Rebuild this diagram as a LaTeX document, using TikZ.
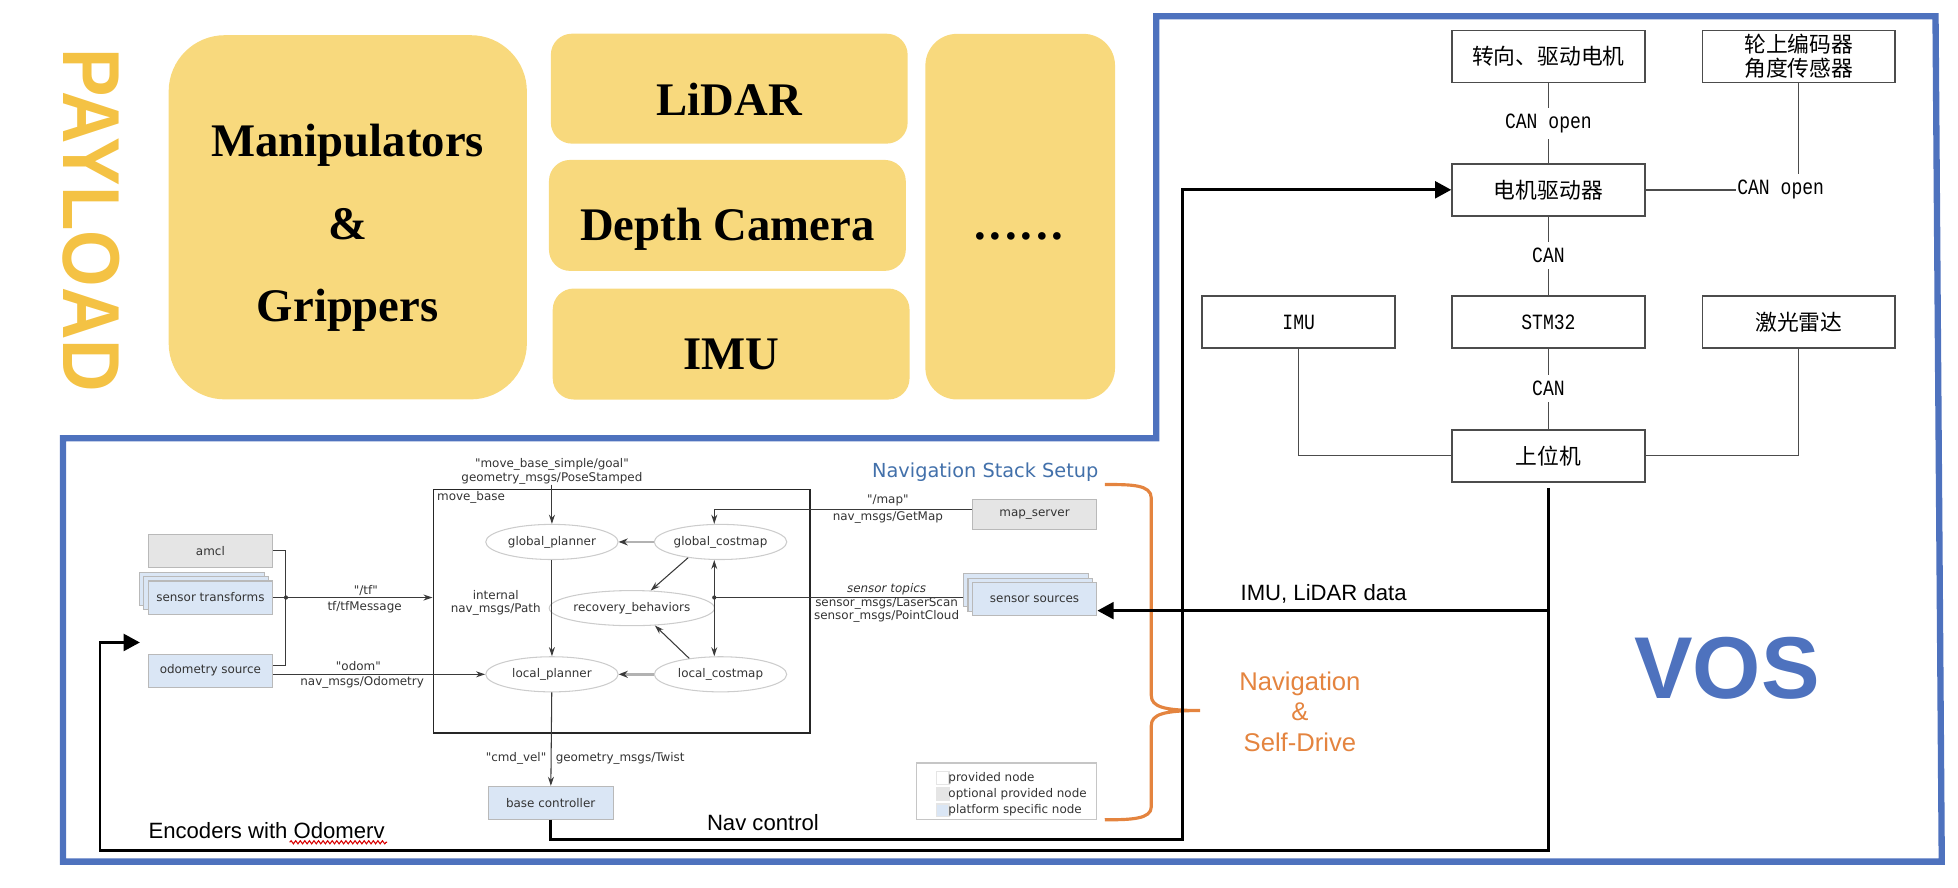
\documentclass[tikz,border=0pt]{standalone}
\usepackage{graphicx}
\usepackage{fontspec}
\setmainfont{Liberation Sans}
\newfontfamily\cjkfont{Noto Sans CJK SC}
\newfontfamily\rosfont{DejaVu Sans}[Ligatures=TeXOff]
\newfontfamily\payfont{Liberation Serif}
\newfontfamily\canfont{Liberation Mono}
\usetikzlibrary{arrows.meta,shapes.geometric,shadows,decorations.pathmorphing}

\definecolor{vosblue}{HTML}{4E72BE}
\definecolor{payfill}{HTML}{F8D97D}
\definecolor{paytext}{HTML}{F4C244}
\definecolor{navorange}{HTML}{E4843F}
\definecolor{rosblue}{HTML}{DAE6F5}
\definecolor{rosgray}{HTML}{E5E5E5}
\definecolor{rosline}{HTML}{3A3A3A}
\definecolor{stacktitle}{HTML}{4270AA}

\newcommand{\rostxt}{\rosfont\fontsize{3.4}{3.8}\selectfont}
\newcommand{\cntxt}{\cjkfont\fontsize{6.2}{6.8}\selectfont}
\newcommand{\cantxt}[1]{{\canfont\fontsize{6.2}{7}\selectfont\scalebox{0.83}[1]{#1}}}

\begin{document}
\begin{tikzpicture}[x=0.01249cm, y=-0.01249cm,
  paybox/.style={fill=payfill, rounded corners=6pt, inner sep=0pt},
  paylbl/.style={font=\payfont\bfseries\fontsize{13.3}{23.5}\selectfont, align=center, inner sep=0pt},
  vosbox/.style={draw=black!70, line width=0.45pt, fill=white, minimum width=54.9pt, minimum height=14.8pt, inner sep=0pt, font=\cntxt, align=center},
  canlbl/.style={inner xsep=0.3pt, inner ysep=1.6pt},
  vline/.style={draw=black!70, line width=0.4pt},
  bigarrow/.style={line width=0.75pt, -{Triangle[length=4.6pt,width=4.8pt]}},
  sidetxt/.style={font=\fontsize{6.3}{7.5}\selectfont, inner sep=0pt},
  rosbox/.style={draw=gray!55, line width=0.3pt, minimum width=35.5pt, minimum height=9.4pt, inner sep=0pt, font=\rostxt, text=black!80},
  rosstack/.style={rosbox, fill=rosblue, copy shadow={shadow xshift=-2.4pt, shadow yshift=2.4pt}, copy shadow={shadow xshift=-1.2pt, shadow yshift=1.2pt}},
  rosell/.style={ellipse, draw=gray!40, line width=0.3pt, minimum width=37.7pt, minimum height=10pt, inner sep=0pt, font=\rostxt, text=black!80},
  roslbl/.style={font=\rostxt, text=black!80, inner sep=0pt, align=center},
  rosplain/.style={draw=rosline, line width=0.3pt},
  rosarrow/.style={rosplain, -{Stealth[length=2.6pt,width=1.7pt]}},
  rosthick/.style={draw=gray!60, line width=0.75pt, -{Stealth[length=2.6pt,width=2pt,color=rosline]}}]
\useasboundingbox (0,0) rectangle (1568,711);

% VOS frame
\draw[vosblue, line width=1.8pt] (926,13) -- (1550,13) -- (1555,690) -- (50.5,690) -- (50.5,351) -- (926,351) -- cycle;

% payload
\node[rotate=-90, text=paytext, font=\bfseries\fontsize{23}{23}\selectfont, inner sep=0pt] (payload) at (73.5,176.5) {\scalebox{0.9}[1]{PAYLOAD}};
\node[paybox, rounded corners=16pt, minimum width=102pt, minimum height=103.7pt] (manip) at (278.5,174) {};
\node[paylbl] (manipt) at (278.5,182.5) {Manipulators\\\&\\Grippers};
\node[paybox, minimum width=101.6pt, minimum height=31.3pt] (lidar) at (584,71) {};
\node[paylbl] (lidart) at (584,79.5) {LiDAR};
\node[paybox, minimum width=101.6pt, minimum height=31.6pt] (depth) at (582.5,172.5) {};
\node[paylbl] (deptht) at (582.5,183.5) {Depth Camera};
\node[paybox, minimum width=101.6pt, minimum height=31.6pt] (imu) at (585.5,275.5) {};
\node[paylbl] (imut) at (585.5,283.5) {IMU};
\node[paybox, rounded corners=9pt, minimum width=54pt, minimum height=104.1pt] (more) at (817,173.5) {};
\node[paylbl] (moret) at (816,189) {.\kern1.1pt.\kern1.1pt.\kern1.1pt.\kern1.1pt.\kern1.1pt.};

% navigation stack
\node[text=stacktitle, font=\rosfont\fontsize{5.5}{6.5}\selectfont, inner sep=0pt] (nsstitle) at (789,378) {Navigation Stack Setup};
\node[draw=black!85, line width=0.5pt, minimum width=107.3pt, minimum height=69.3pt, inner sep=0pt] (mbase) at (498,489.5) {};
\node[roslbl, anchor=west] (mbaselbl) at (349.5,398.5) {move\_base};

\node[rosell] (gplan) at (442,434) {global\_planner};
\node[rosell] (gcost) at (577,434) {global\_costmap};
\node[rosell] (recov) at (506,487) {recovery\_behaviors};
\node[rosell] (lplan) at (442,540) {local\_planner};
\node[rosell] (lcost) at (577,540) {local\_costmap};

\node[rosbox, fill=rosgray] (amcl) at (168.5,441) {amcl};
\node[rosstack] (strans) at (168.5,478.5) {sensor transforms};
\node[rosbox, fill=rosblue] (odom) at (168.5,537) {odometry source};
\node[rosbox, fill=rosgray, minimum height=8.8pt] (mapsrv) at (828.5,412) {map\_server};
\node[rosstack] (srcs) at (828.5,479.5) {sensor sources};
\node[rosbox, fill=rosblue] (base) at (441,643) {base controller};

\node[roslbl] (goal) at (442,377.5) {"move\_base\_simple/goal"\\geometry\_msgs/PoseStamped};
\node[roslbl] (tflbl) at (293,472.5) {"/tf"};
\node[roslbl] (tfmsg) at (292,486.5) {tf/tfMessage};
\node[roslbl] (odomlbl) at (287,533) {"odom"};
\node[roslbl] (odommsg) at (290,546.5) {nav\_msgs/Odometry};
\node[roslbl] (pathlbl) at (397,483) {internal\\nav\_msgs/Path};
\node[roslbl] (maplbl) at (711,401) {"/map"};
\node[roslbl] (mapmsg) at (711,414.5) {nav\_msgs/GetMap};
\node[roslbl, font=\rostxt\itshape] (toplbl) at (710,471.5) {sensor topics};
\node[roslbl] (topmsg) at (710,488.5) {sensor\_msgs/LaserScan\\sensor\_msgs/PointCloud};
\node[roslbl, anchor=east] (cmdlbl) at (438,607.5) {"cmd\_vel"};
\node[roslbl, anchor=west] (twistlbl) at (444.5,607.5) {geometry\_msgs/Twist};

\coordinate (tdot) at (229,478.5);
\coordinate (tbot) at (229,533);
\coordinate (sdot) at (572,478.5);

\draw[rosarrow] (goal) -- (gplan);
\draw[rosthick] (gcost) -- (gplan);
\draw[rosthick] (lcost) -- (lplan);
\draw[rosarrow] (gplan) -- (lplan);
\draw[rosarrow] (gcost.206) -- (recov.43);
\draw[rosarrow] (lcost.153) -- (recov.323);
\draw[rosplain, {Stealth[length=2.6pt,width=1.7pt]}-{Stealth[length=2.6pt,width=1.7pt]}] (gcost.south -| sdot) -- (lcost.north -| sdot);
\draw[rosarrow] ([yshift=1.5pt]mapsrv.west) -| (gcost.north -| sdot);
\draw[rosplain, shorten <=2.4pt] (sdot -| srcs.west) -- (sdot);
\fill[rosline] (sdot) circle (0.6pt);

\draw[rosplain] (amcl) -| (tbot) -- (tbot -| odom.east);
\draw[rosplain] (strans) -- (tdot);
\draw[rosarrow] (tdot) -- (tdot -| mbase.west);
\fill[rosline] (tdot) circle (0.6pt);
\draw[rosarrow] (odom.east |- lplan) -- (lplan);
\draw[rosarrow] (lplan) -- (base);

% legend
\node[draw=gray!45, line width=0.3pt, minimum width=51.2pt, minimum height=16pt, inner sep=0pt] (legend) at (806,633.5) {};
\foreach \fc/\yy/\txt in {white/623/provided node, rosgray/636/optional provided node, rosblue/649/platform specific node}
  {
  \node[draw=gray!20, fill=\fc, minimum size=3.6pt, inner sep=0pt] (lg\yy) at (755,\yy) {};
  \node[roslbl, anchor=west] (lgt\yy) at (759,\yy) {\txt};
  }

% brace
\draw[navorange, line width=0.9pt] (884.7,388) .. controls (906,388) and (922,388) .. (922,399) -- (922,557) .. controls (922,566) and (932,569) .. (961,569) .. controls (932,569) and (922,572) .. (922,581) -- (922,646) .. controls (922,656) and (906,656.5) .. (884.7,656.5);
\node[text=navorange, font=\fontsize{7.3}{8.7}\selectfont, align=center, inner sep=0pt] (navself) at (1041,570) {Navigation\\\&\\Self-Drive};
\node[text=vosblue, font=\bfseries\fontsize{25}{30}\selectfont, inner sep=0pt] (vos) at (1383,535) {VOS};

% VOS hardware
\node[vosbox] (motor) at (1240,45.3) {转向、驱动电机};
\node[vosbox] (enc) at (1440.5,45.3) {轮上编码器\\角度传感器};
\node[vosbox] (driver) at (1240,152) {电机驱动器};
\node[vosbox] (imuv) at (1040,258) {\cantxt{IMU}};
\node[vosbox] (stm) at (1240,258) {\cantxt{STM32}};
\node[vosbox] (lidarv) at (1440.5,258) {激光雷达};
\node[vosbox] (host) at (1240,365) {上位机};

\node[canlbl] (can1) at (1240,99) {\cantxt{CAN open}};
\node[canlbl] (can2) at (1426,152) {\cantxt{CAN open}};
\node[canlbl] (can3) at (1240,204.5) {\cantxt{CAN}};
\node[canlbl] (can4) at (1240,311) {\cantxt{CAN}};

\draw[vline] (motor) -- (can1) -- (driver);
\draw[vline] (driver) -- (can3) -- (stm);
\draw[vline] (stm) -- (can4) -- (host);
\draw[vline] (driver) -- (can2);
\draw[vline] (enc) -- (enc |- can2.north);
\draw[vline] (imuv) |- (host);
\draw[vline] (lidarv) |- (host);

% control and data lines
\coordinate (navR) at (947,672.5);
\coordinate (botL) at (80,681);
\coordinate (encin) at (112,514.5);
\coordinate (split) at (1240,489);
\draw[bigarrow] (base) |- (navR) |- (driver);
\draw[bigarrow, shorten <=1.5pt] (host) |- (botL) |- (encin);
\draw[bigarrow] (split) -- (split -| srcs.east);

\node[sidetxt] (lidtxt) at (1060,476) {IMU, LiDAR data};
\node[sidetxt] (navtxt) at (611,659) {Nav control};
\node[sidetxt] (enctxt) at (213.5,665) {Encoders with Odomerv};
\draw[red!85!black, line width=0.3pt, decorate, decoration={snake, amplitude=0.45pt, segment length=1.3pt}] (232,674.5) -- (310,674.5);
\end{tikzpicture}
\end{document}
